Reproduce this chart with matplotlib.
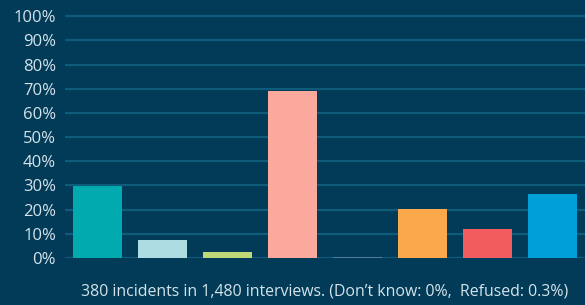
import matplotlib.pyplot as plt
from matplotlib.ticker import FuncFormatter

# --- Data
categories = ["A", "B", "C", "D", "E", "F", "G", "H"]
values = [29.8, 7.3, 2.3, 69.1, 0.3, 20.1, 11.9, 26.5]
colors = ["#00AAAE", "#ADDDE3", "#BFD978", "#FBA99C",
          "#5B7A95", "#FBA74B", "#F25C5E", "#009FDA"]
y_ticks = list(range(0, 101, 10))
caption = "380 incidents in 1,480 interviews. (Don\u2019t know: 0%,  Refused: 0.3%)"

bg = "#013B58"
grid_col = "#0D5C7B"
text_col = "#D5E3EA"

plt.rcParams["font.family"] = ["Open Sans", "DejaVu Sans"]

fig = plt.figure(figsize=(5.85, 3.05), dpi=100, facecolor=bg)
ax = fig.add_axes([0.1111, 0.1541, 0.8889, 0.8003], facecolor=bg)

x = range(len(categories))
ax.bar(x, values, width=0.74, color=colors, zorder=3)

ax.set_xlim(-0.5, len(categories) - 0.5)
ax.set_ylim(0, 101)
ax.set_yticks(y_ticks)
ax.yaxis.set_major_formatter(FuncFormatter(lambda v, _: f"{v:.0f}%"))
ax.set_xticks([])
ax.tick_params(axis="y", length=0, pad=6.5, labelsize=12, labelcolor=text_col)
ax.grid(axis="y", color=grid_col, linewidth=1.6, zorder=0)
for s in ax.spines.values():
    s.set_visible(False)

ax.text(0.5, -0.138, caption, transform=ax.transAxes, ha="center", va="center",
        fontsize=11.4, color=text_col)

fig.savefig("out.png", dpi=100, facecolor=bg)
